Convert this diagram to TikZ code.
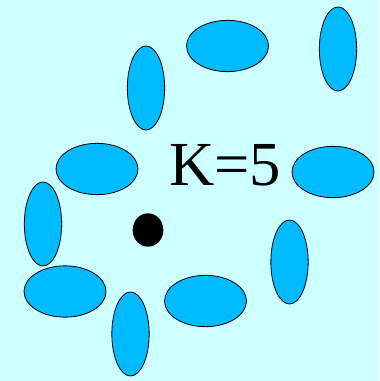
\documentclass[tikz,border=0pt]{standalone}
\usepackage{fontspec}
\setmainfont{Liberation Serif}
\usepackage{tikz}
\usetikzlibrary{shapes.geometric}
\definecolor{sky}{HTML}{CCFFFF}
\definecolor{blob}{HTML}{00BBFF}

\begin{document}
\begin{tikzpicture}[
    x=0.75pt, y=-0.75pt,
    cell/.style={ellipse, draw=black, line width=0.6pt, fill=blob, inner sep=0pt},
    wide/.style={cell, minimum width=61.5pt, minimum height=38.5pt},
    tall/.style={cell, minimum width=28pt, minimum height=63pt},
    centre/.style={ellipse, fill=black, inner sep=0pt, minimum width=23pt, minimum height=25pt}
]
    % Background
    \fill[sky] (0,0) rectangle (379,381);

    % Horizontal cells
    \node[wide] (top) at (227.5,46) {};
    \node[wide] (left) at (97,169) {};
    \node[wide] (right) at (333,172) {};
    \node[wide] (lowleft) at (65,291.5) {};
    \node[wide] (lowmid) at (205.5,301) {};

    % Vertical cells
    \node[tall] (topright) at (338,49) {};
    \node[tall] (upper) at (146,88) {};
    \node[tall] (farleft) at (43,224) {};
    \node[tall] (midright) at (289.5,262) {};
    \node[tall] (bottom) at (130.5,334) {};

    % Centre point and label
    \node[centre] (dot) at (148,230) {};
    \node[anchor=base, inner sep=0pt, font=\fontsize{47}{50}\selectfont] (k) at (225,185) {K=5};
\end{tikzpicture}
\end{document}
